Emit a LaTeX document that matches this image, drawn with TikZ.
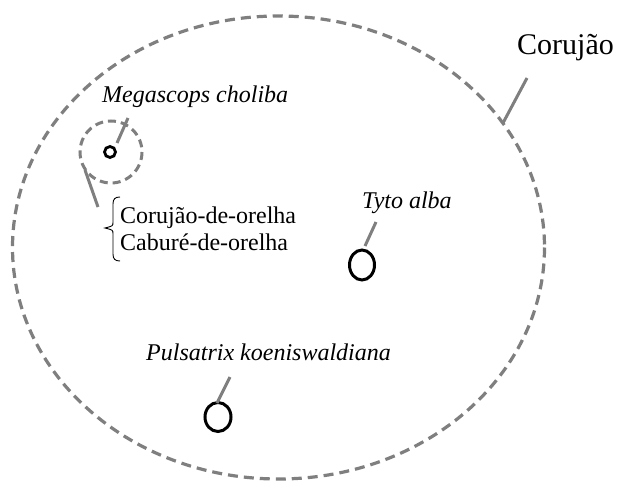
\documentclass[tikz,border=0pt]{standalone}
\usepackage{fontspec}
\setmainfont{Liberation Serif}
\definecolor{lead}{HTML}{7F7F7F}
\begin{document}
\begin{tikzpicture}[x=1pt,y=-1pt,
  lbl/.style={anchor=base west,inner sep=0pt,font=\fontsize{24}{27}\selectfont},
  leader/.style={draw=lead,line width=3pt},
  owl/.style={draw=black,line width=3pt},
  grp/.style={draw=lead,line width=3.2pt,dash pattern=on 10pt off 6pt}]
\useasboundingbox (0,0) rectangle (618,481);
% big group
\draw[grp] (278.5,247.5) ellipse [x radius=266, y radius=231.5];
\node[lbl,font=\fontsize{30}{33}\selectfont] (coru) at (517,55) {Corujão};
\coordinate (c1) at (527,78);
\coordinate (c2) at (503,123);
\draw[leader] (c1) -- (c2);
% Megascops
\draw[grp,line width=3pt,dash pattern=on 8pt off 5pt] (111,152) circle [radius=31];
\draw[owl,line width=2.8pt] (110,152) circle [radius=5.5];
\node[lbl,font=\fontsize{24}{27}\selectfont\itshape] (mega) at (102,103) {Megascops choliba};
\coordinate (m1) at (117,143);
\coordinate (m2) at (128,118);
\draw[leader] (m1) -- (m2);
\coordinate (g1) at (85,170);
\coordinate (g2) at (98,207);
\draw[leader] (g1) -- (g2);
% brace
\draw[line width=0.9pt] (120,197) .. controls (115,197) and (113,199) .. (113,204)
  -- (113,222) .. controls (113,226) .. (105,228)
  .. controls (113,230) .. (113,234) -- (113,254)
  .. controls (113,259) and (115,261) .. (120,261);
\node[lbl] (n1) at (120,223) {Corujão-de-orelha};
\node[lbl] (n2) at (120,250) {Caburé-de-orelha};
% Tyto alba
\node[lbl,font=\fontsize{24}{27}\selectfont\itshape] (tyto) at (362,208) {Tyto alba};
\draw[owl] (362,265) ellipse [x radius=12.5, y radius=15];
\coordinate (t1) at (365,246);
\coordinate (t2) at (376,222);
\draw[leader] (t1) -- (t2);
% Pulsatrix
\node[lbl,font=\fontsize{24}{27}\selectfont\itshape] (puls) at (146,360) {Pulsatrix koeniswaldiana};
\draw[owl] (218,417) ellipse [x radius=13, y radius=14.5];
\coordinate (p1) at (217,403);
\coordinate (p2) at (230,377);
\draw[leader] (p1) -- (p2);
\end{tikzpicture}
\end{document}
